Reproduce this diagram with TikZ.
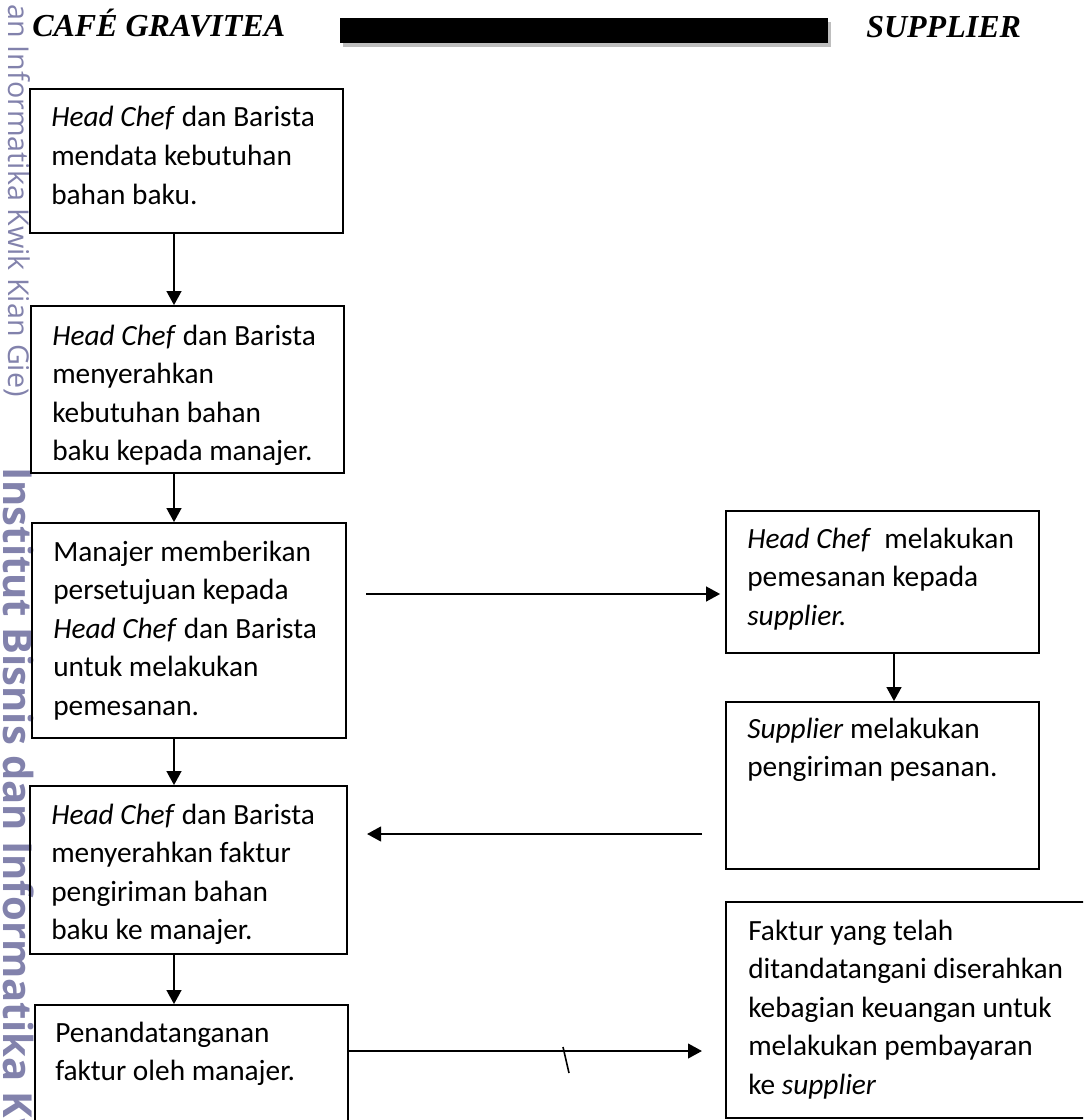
\documentclass[tikz,border=0pt]{standalone}
\usepackage{fontspec}
\setmainfont{Carlito}
\newfontfamily\titlefont{Liberation Serif}
\newfontfamily\wmfont{Open Sans}
\usetikzlibrary{arrows.meta,fit}
\definecolor{wm}{RGB}{130,130,172}
\definecolor{shade}{RGB}{190,190,190}
\newcommand{\mylines}[1]{\begin{tabular}[t]{@{}l@{}}#1\end{tabular}}
\begin{document}
\begin{tikzpicture}[x=0.75pt,y=-0.75pt,
  box/.style={draw, line width=1.3pt, inner sep=0pt},
  txt/.style={anchor=base west, inner sep=0pt, font=\fontsize{22pt}{28.9pt}\selectfont},
  arr/.style={line width=1.6pt, -{Triangle[length=10.5pt,width=11pt]}},
  title/.style={anchor=base west, inner sep=0pt, font=\titlefont\bfseries\itshape\fontsize{24pt}{28pt}\selectfont},
  wmtext/.style={text=wm, inner sep=0pt, rotate=-90}
]
\clip (0,0) rectangle (1083,1120);
% watermark
\node[wmtext, font=\wmfont\fontsize{21.5pt}{21.5pt}\selectfont, anchor=base east] (wm1) at (8,397) {an Informatika Kwik Kian Gie)};
\node[wmtext, font=\wmfont\bfseries\fontsize{30pt}{30pt}\selectfont, anchor=base west] (wm2) at (3,467) {Institut Bisnis dan Informatika Kwik Kian Gie)};
% header
\node[title] (cafe) at (32,37) {CAFÉ GRAVITEA};
\node[title] (sup) at (866,38) {SUPPLIER};
\node[fill=shade, inner sep=0pt, fit={(343,22) (831,47)}] (barshadow) {};
\node[fill=black, inner sep=0pt, fit={(340,18) (828,43)}] (bar) {};
% boxes
\node[box, fit={(30,89) (343,233)}] (b1) {};
\node[box, fit={(31,306) (344,473)}] (b2) {};
\node[box, fit={(32,523) (346,738)}] (b3) {};
\node[box, fit={(30,786) (347,954)}] (b4) {};
\node[box, fit={(35,1005) (348,1140)}] (b5) {};
\node[box, fit={(726,511) (1039,653)}] (bA) {};
\node[box, fit={(726,702) (1039,869)}] (bB) {};
\node[box, fit={(726,902) (1100,1118)}] (bC) {};
% texts
\node[txt] (t1) at (51,127) {\mylines{\textit{Head Chef} dan Barista\\ mendata kebutuhan\\ bahan baku.}};
\begin{scope}
\clip (31,306) rectangle (344,470);
\node[txt] (t2) at (52,345) {\mylines{\textit{Head Chef} dan Barista\\ menyerahkan\\ kebutuhan bahan\\ baku kepada manajer.}};
\end{scope}
\node[txt] (t3) at (53,561) {\mylines{Manajer memberikan\\ persetujuan kepada\\ \textit{Head Chef} dan Barista\\ untuk melakukan\\ pemesanan.}};
\node[txt] (t4) at (51,824) {\mylines{\textit{Head Chef} dan Barista\\ menyerahkan faktur\\ pengiriman bahan\\ baku ke manajer.}};
\node[txt] (t5) at (55,1042) {\mylines{Penandatanganan\\ faktur oleh manajer.}};
\node[txt] (tA) at (747,548) {\mylines{\textit{Head Chef} \ melakukan\\ pemesanan kepada\\ \textit{supplier.}}};
\node[txt] (tB) at (747,738) {\mylines{\textit{Supplier} melakukan\\ pengiriman pesanan.}};
\node[txt] (tC) at (748,940) {\mylines{Faktur yang telah\\ ditandatangani diserahkan\\ kebagian keuangan untuk\\ melakukan pembayaran\\ ke \textit{supplier}}};
% connectors
\coordinate (ax) at (174,0);
\coordinate (bx) at (894,0);
\draw[arr] (b1.south -| ax) -- (b2.north -| ax);
\draw[arr] (b2.south -| ax) -- (b3.north -| ax);
\draw[arr] (b3.south -| ax) -- (b4.north -| ax);
\draw[arr] (b4.south -| ax) -- (b5.north -| ax);
\draw[arr] (bA.south -| bx) -- (bB.north -| bx);
\coordinate (h1s) at (366,594);
\draw[arr, shorten >=3.75pt] (h1s) -- (h1s -| bA.west);
\coordinate (h2s) at (702,834);
\coordinate (h2e) at (367,834);
\draw[arr] (h2s) -- (h2e);
\coordinate (h3e) at (702,1051);
\draw[arr] (b5.east |- h3e) -- (h3e);
\coordinate (k1) at (563,1047);
\coordinate (k2) at (569,1073);
\draw[line width=1.2pt] (k1) -- (k2);
\end{tikzpicture}
\end{document}
